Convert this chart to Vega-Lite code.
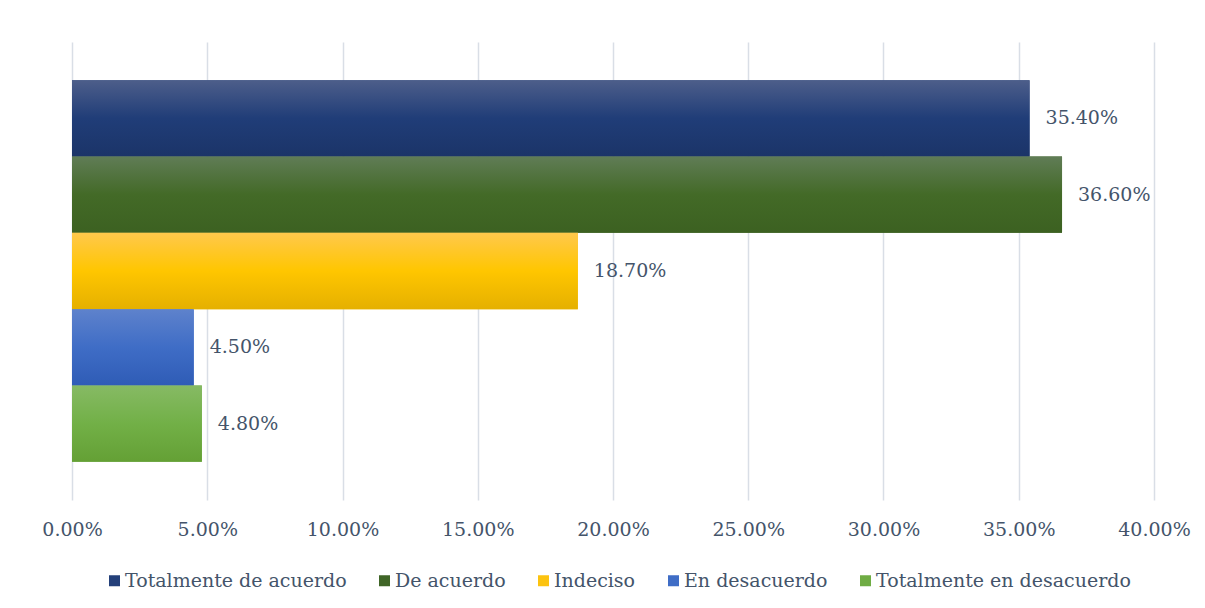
{
  "$schema": "https://vega.github.io/schema/vega-lite/v6.json",
  "autosize": "none",
  "width": 1082,
  "height": 458,
  "padding": {"left": 72, "top": 42, "right": 51, "bottom": 108},
  "background": "white",
  "config": {
    "view": {"stroke": null},
    "font": "DejaVu Serif"
  },
  "data": {
    "values": [
      {"Respuesta": "Totalmente de acuerdo", "Porcentaje": 0.354},
      {"Respuesta": "De acuerdo", "Porcentaje": 0.366},
      {"Respuesta": "Indeciso", "Porcentaje": 0.187},
      {"Respuesta": "En desacuerdo", "Porcentaje": 0.045},
      {"Respuesta": "Totalmente en desacuerdo", "Porcentaje": 0.048}
    ]
  },
  "encoding": {
    "y": {
      "field": "Respuesta",
      "type": "nominal",
      "sort": ["Totalmente de acuerdo", "De acuerdo", "Indeciso", "En desacuerdo", "Totalmente en desacuerdo"],
      "scale": {"paddingInner": 0, "paddingOuter": 0.5},
      "axis": null
    },
    "x": {
      "field": "Porcentaje",
      "type": "quantitative",
      "scale": {"domain": [0, 0.4], "nice": false},
      "axis": {
        "values": [0, 0.05, 0.1, 0.15, 0.2, 0.25, 0.3, 0.35, 0.4],
        "format": ".2%",
        "title": null,
        "domain": false,
        "ticks": false,
        "grid": true,
        "gridColor": "#d9dee6",
        "gridWidth": 1.5,
        "labelFont": "DejaVu Serif",
        "labelFontSize": 19,
        "labelColor": "#44546A",
        "labelPadding": 20,
        "labelFlush": false
      }
    }
  },
  "layer": [
    {
      "mark": {"type": "bar"},
      "encoding": {
        "color": {
          "field": "Respuesta",
          "type": "nominal",
          "sort": ["Totalmente de acuerdo", "De acuerdo", "Indeciso", "En desacuerdo", "Totalmente en desacuerdo"],
          "scale": {
            "domain": ["Totalmente de acuerdo", "De acuerdo", "Indeciso", "En desacuerdo", "Totalmente en desacuerdo"],
            "range": ["#24407a", "#3f6527", "#fcc310", "#3f6dc6", "#6fac44"]
          },
          "legend": {
            "title": null,
            "orient": "none",
            "direction": "horizontal",
            "legendX": 33,
            "legendY": 529,
            "columns": 5,
            "symbolType": "square",
            "symbolSize": 121,
            "symbolStrokeWidth": 0,
            "labelFont": "DejaVu Serif",
            "labelFontSize": 19,
            "labelColor": "#44546A",
            "labelOffset": 1,
            "columnPadding": 28,
            "labelLimit": 400
          }
        }
      }
    },
    {
      "transform": [{"filter": "datum.Respuesta == 'Totalmente de acuerdo'"}],
      "mark": {"type": "bar", "color": {"gradient": "linear", "x1": 0, "y1": 0, "x2": 0, "y2": 1, "stops": [{"offset": 0, "color": "#4d5e8a"}, {"offset": 0.5, "color": "#203d78"}, {"offset": 1, "color": "#1b3468"}]}},
      "encoding": {}
    },
    {
      "transform": [{"filter": "datum.Respuesta == 'De acuerdo'"}],
      "mark": {"type": "bar", "color": {"gradient": "linear", "x1": 0, "y1": 0, "x2": 0, "y2": 1, "stops": [{"offset": 0, "color": "#607c56"}, {"offset": 0.5, "color": "#436a27"}, {"offset": 1, "color": "#3c6121"}]}},
      "encoding": {}
    },
    {
      "transform": [{"filter": "datum.Respuesta == 'Indeciso'"}],
      "mark": {"type": "bar", "color": {"gradient": "linear", "x1": 0, "y1": 0, "x2": 0, "y2": 1, "stops": [{"offset": 0, "color": "#ffc84c"}, {"offset": 0.5, "color": "#ffc600"}, {"offset": 1, "color": "#e5b000"}]}},
      "encoding": {}
    },
    {
      "transform": [{"filter": "datum.Respuesta == 'En desacuerdo'"}],
      "mark": {"type": "bar", "color": {"gradient": "linear", "x1": 0, "y1": 0, "x2": 0, "y2": 1, "stops": [{"offset": 0, "color": "#5e82cc"}, {"offset": 0.5, "color": "#3f6dc6"}, {"offset": 1, "color": "#2f5cb6"}]}},
      "encoding": {}
    },
    {
      "transform": [{"filter": "datum.Respuesta == 'Totalmente en desacuerdo'"}],
      "mark": {"type": "bar", "color": {"gradient": "linear", "x1": 0, "y1": 0, "x2": 0, "y2": 1, "stops": [{"offset": 0, "color": "#86ba64"}, {"offset": 0.5, "color": "#72b047"}, {"offset": 1, "color": "#64a035"}]}},
      "encoding": {}
    },
    {
      "mark": {"type": "text", "align": "left", "baseline": "middle", "dx": 16, "font": "DejaVu Serif", "fontSize": 19, "color": "#44546A"},
      "encoding": {
        "text": {"field": "Porcentaje", "type": "quantitative", "format": ".2%"}
      }
    }
  ]
}
